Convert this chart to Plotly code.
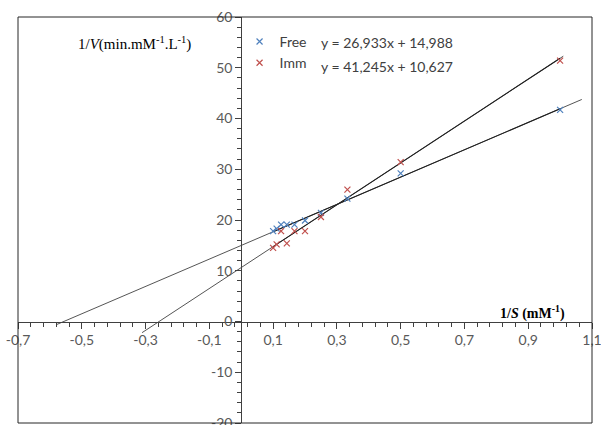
import plotly.graph_objects as go

# Data (x = 1/S, y = 1/V)
inv_s = [0.1, 0.111, 0.125, 0.143, 0.167, 0.2, 0.25, 0.333, 0.5, 1.0]
free_y = [17.8, 18.3, 19.1, 19.1, 19.1, 19.9, 21.4, 24.2, 29.2, 41.7]
imm_y = [14.5, 15.2, 17.8, 15.4, 17.8, 17.8, 20.6, 26.0, 31.4, 51.4]

# Trendlines (as printed on the chart) and their drawn extents
free_slope, free_icpt = 26.933, 14.988
imm_slope, imm_icpt = 41.245, 10.627
free_ext = [-0.578, 1.068]
imm_ext = [-0.311, 1.01]
data_ext = [0.1, 1.0]

free_eq = "y = 26,933x + 14,988"
imm_eq = "y = 41,245x + 10,627"

x_range = [-0.7, 1.1]
y_range = [-20, 60]
x_tickvals = [-0.7, -0.5, -0.3, -0.1, 0.1, 0.3, 0.5, 0.7, 0.9, 1.1]
x_ticktext = ["-0,7", "-0,5", "-0,3", "-0,1", "0,1", "0,3", "0,5", "0,7", "0,9", "1,1"]
y_tickvals = [-20, -10, 0, 10, 20, 30, 40, 50, 60]
y_ticktext = ["-20", "-10", "0", "10", "20", "30", "40", "50", "60"]


def line_pts(slope, icpt, ext):
    return ext, [slope * v + icpt for v in ext]


fig = go.Figure()

for slope, icpt, ext in [(free_slope, free_icpt, free_ext), (imm_slope, imm_icpt, imm_ext)]:
    lx, ly = line_pts(slope, icpt, ext)
    fig.add_trace(go.Scatter(x=lx, y=ly, mode="lines", line=dict(color="#555555", width=1),
                             showlegend=False, hoverinfo="skip"))
    lx, ly = line_pts(slope, icpt, data_ext)
    fig.add_trace(go.Scatter(x=lx, y=ly, mode="lines", line=dict(color="#1e1e1e", width=1.1),
                             showlegend=False, hoverinfo="skip"))

fig.add_trace(go.Scatter(x=inv_s, y=free_y, mode="markers", name="Free",
                         marker=dict(symbol="x-thin-open", size=6, color="#4F81BD",
                                     line=dict(color="#4F81BD", width=1.2))))
fig.add_trace(go.Scatter(x=inv_s, y=imm_y, mode="markers", name="Imm",
                         marker=dict(symbol="x-thin-open", size=6, color="#C0504D",
                                     line=dict(color="#C0504D", width=1.2))))

tickfont = dict(family="Lato, Liberation Sans, sans-serif", size=14, color="#595959")

fig.update_layout(
    width=601, height=425,
    margin=dict(l=18, r=9, t=17, b=2, autoexpand=False),
    paper_bgcolor="white", plot_bgcolor="white",
    separators=", ",
    xaxis=dict(range=x_range, anchor="free", position=(0 - y_range[0]) / (y_range[1] - y_range[0]),
               tickmode="array", tickvals=x_tickvals, ticktext=x_ticktext,
               ticks="outside", ticklen=6, tickcolor="#404040", ticklabeloverflow="allow",
               minor=dict(tick0=-0.7, dtick=0.04, ticks="outside", ticklen=4, tickcolor="#404040"),
               showline=True, linecolor="#404040", linewidth=1, automargin=False,
               showgrid=False, zeroline=False, tickfont=tickfont),
    yaxis=dict(range=y_range, anchor="free", position=(0 - x_range[0]) / (x_range[1] - x_range[0]),
               tickmode="array", tickvals=y_tickvals, ticktext=y_ticktext,
               ticks="outside", ticklen=6, tickcolor="#404040", ticklabeloverflow="allow",
               minor=dict(tick0=0, dtick=2, ticks="outside", ticklen=4, tickcolor="#404040"),
               showline=True, linecolor="#404040", linewidth=1, automargin=False,
               showgrid=False, zeroline=False, tickfont=tickfont),
    legend=dict(x=0.386, y=0.978, xanchor="left", yanchor="top", bgcolor="rgba(0,0,0,0)",
                font=dict(family="Lato, Liberation Sans, sans-serif", size=14, color="#404040"),
                itemwidth=30, tracegroupgap=0),
    shapes=[dict(type="rect", xref="paper", yref="paper", x0=0, y0=0, x1=1, y1=1,
                 line=dict(color="#262626", width=1), layer="above")],
)

fig.add_annotation(x=0.525, y=0.936, xref="paper", yref="paper", xanchor="left", yanchor="middle",
                   text=free_eq, showarrow=False,
                   font=dict(family="Lato, Liberation Sans, sans-serif", size=14, color="#404040"))
fig.add_annotation(x=0.525, y=0.879, xref="paper", yref="paper", xanchor="left", yanchor="middle",
                   text=imm_eq, showarrow=False,
                   font=dict(family="Lato, Liberation Sans, sans-serif", size=14, color="#404040"))

fig.add_annotation(x=0.203, y=0.935, xref="paper", yref="paper", xanchor="center", yanchor="middle",
                   text="1/<i>V</i>(min.mM<sup>-1</sup>.L<sup>-1</sup>)", showarrow=False,
                   font=dict(family="Liberation Serif, Times New Roman, serif", size=15, color="#000000"))
fig.add_annotation(x=0.897, y=0.243, xref="paper", yref="paper", xanchor="center", yanchor="bottom",
                   text="<b>1/<i>S</i> (mM<sup>-1</sup>)</b>", showarrow=False,
                   font=dict(family="Liberation Serif, Times New Roman, serif", size=14, color="#000000"))

fig.write_html("out.html", config={"displayModeBar": False},
               post_script="document.body.style.margin='0';")
